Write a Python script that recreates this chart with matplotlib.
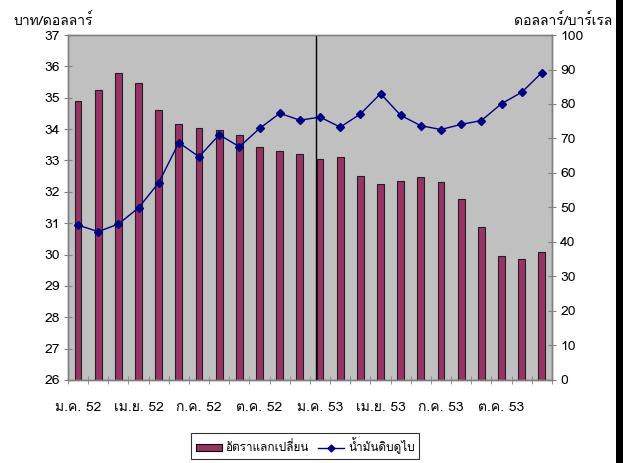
import matplotlib
matplotlib.use("Agg")
import matplotlib.pyplot as plt
from matplotlib import font_manager
from matplotlib.ft2font import FT2Font
from matplotlib.lines import Line2D
from matplotlib.patches import Patch, Rectangle


def find_thai_font():
    # pick any installed font that has Thai glyphs
    for f in font_manager.fontManager.ttflist:
        try:
            if 0x0E01 in FT2Font(f.fname).get_charmap():
                return f.name
        except Exception:
            pass
    return "DejaVu Sans"


thai = find_thai_font()
plt.rcParams["font.family"] = ["Liberation Sans Narrow", thai, "DejaVu Sans"]
plt.rcParams["font.size"] = 10

# Data: Jan 2552 - Dec 2553
months = list(range(24))
tick_pos = [0, 3, 6, 9, 12, 15, 18, 21]
tick_labels = ["ม.ค. 52", "เม.ย. 52", "ก.ค. 52", "ต.ค. 52",
               "ม.ค. 53", "เม.ย. 53", "ก.ค. 53", "ต.ค. 53"]

exchange_rate = [34.90, 35.26, 35.80, 35.47, 34.61, 34.15, 34.03, 33.98,
                 33.82, 33.42, 33.30, 33.21, 33.05, 33.12, 32.51, 32.26,
                 32.35, 32.47, 32.30, 31.77, 30.87, 29.96, 29.86, 30.09]

dubai_oil = [44.9, 43.0, 45.2, 49.9, 57.2, 68.8, 64.7, 71.1,
             67.6, 72.9, 77.3, 75.3, 76.2, 73.3, 77.1, 83.0,
             76.7, 73.7, 72.6, 74.1, 75.2, 80.1, 83.4, 89.1]

divider_x = 11.82

bar_color = "#993366"
line_color = "#000080"
spine_color = "#808080"

fig = plt.figure(figsize=(6.23, 4.63), dpi=100)
fig.patch.set_facecolor("white")
ax = fig.add_axes([0.1091, 0.1793, 0.7769, 0.7451])
ax.set_facecolor("#C0C0C0")

ax.bar(months, exchange_rate, width=0.34, color=bar_color,
       edgecolor="#202020", linewidth=0.8, zorder=2)
ax.set_xlim(-0.5, 23.5)
ax.set_ylim(26, 37)
ax.set_yticks(range(26, 38))
ax.axvline(divider_x, color="black", linewidth=1.0, zorder=5)

# category boundary ticks + labels under bars
ax.set_xticks([i - 0.5 for i in range(25)], minor=True)
ax.set_xticks(tick_pos)
ax.set_xticklabels(tick_labels)
ax.tick_params(axis="x", which="major", length=0, pad=16)
ax.tick_params(axis="x", which="minor", direction="inout", length=6,
               color=spine_color)
ax.tick_params(axis="y", direction="inout", length=6, color=spine_color, pad=3)

ax2 = ax.twinx()
ax2.plot(months, dubai_oil, color=line_color, linewidth=1.0, marker="D",
         markersize=4.5, zorder=3)
ax2.set_ylim(0, 100)
ax2.set_yticks(range(0, 101, 10))
ax2.tick_params(axis="y", direction="inout", length=6, color=spine_color, pad=3)

for a in (ax, ax2):
    for s in a.spines.values():
        s.set_color(spine_color)
        s.set_linewidth(1.0)

fig.text(0.021, 0.955, "บาท/ดอลลาร์", fontsize=10, ha="left", va="center")
fig.text(0.983, 0.955, "ดอลลาร์/บาร์เรล", fontsize=10, ha="right", va="center")

handles = [Patch(facecolor=bar_color, edgecolor="black", linewidth=0.8),
           Line2D([], [], color=line_color, marker="D", markersize=3.5, linewidth=1.0)]
leg = fig.legend(handles, ["อัตราแลกเปลี่ยน", "น้ำมันดิบดูไบ"], loc="center",
                 bbox_to_anchor=(0.49, 0.037), ncol=2, frameon=True,
                 fancybox=False, edgecolor="black", fontsize=8.5,
                 handlelength=2.2, handleheight=0.5, handletextpad=0.3,
                 columnspacing=0.8, borderpad=0.4)
leg.get_frame().set_linewidth(0.8)

# black band on the right edge of the picture
fig.patches.append(Rectangle((0.989, 0), 0.011, 1, transform=fig.transFigure,
                             facecolor="black", edgecolor="none"))

fig.savefig("out.png", dpi=100)
